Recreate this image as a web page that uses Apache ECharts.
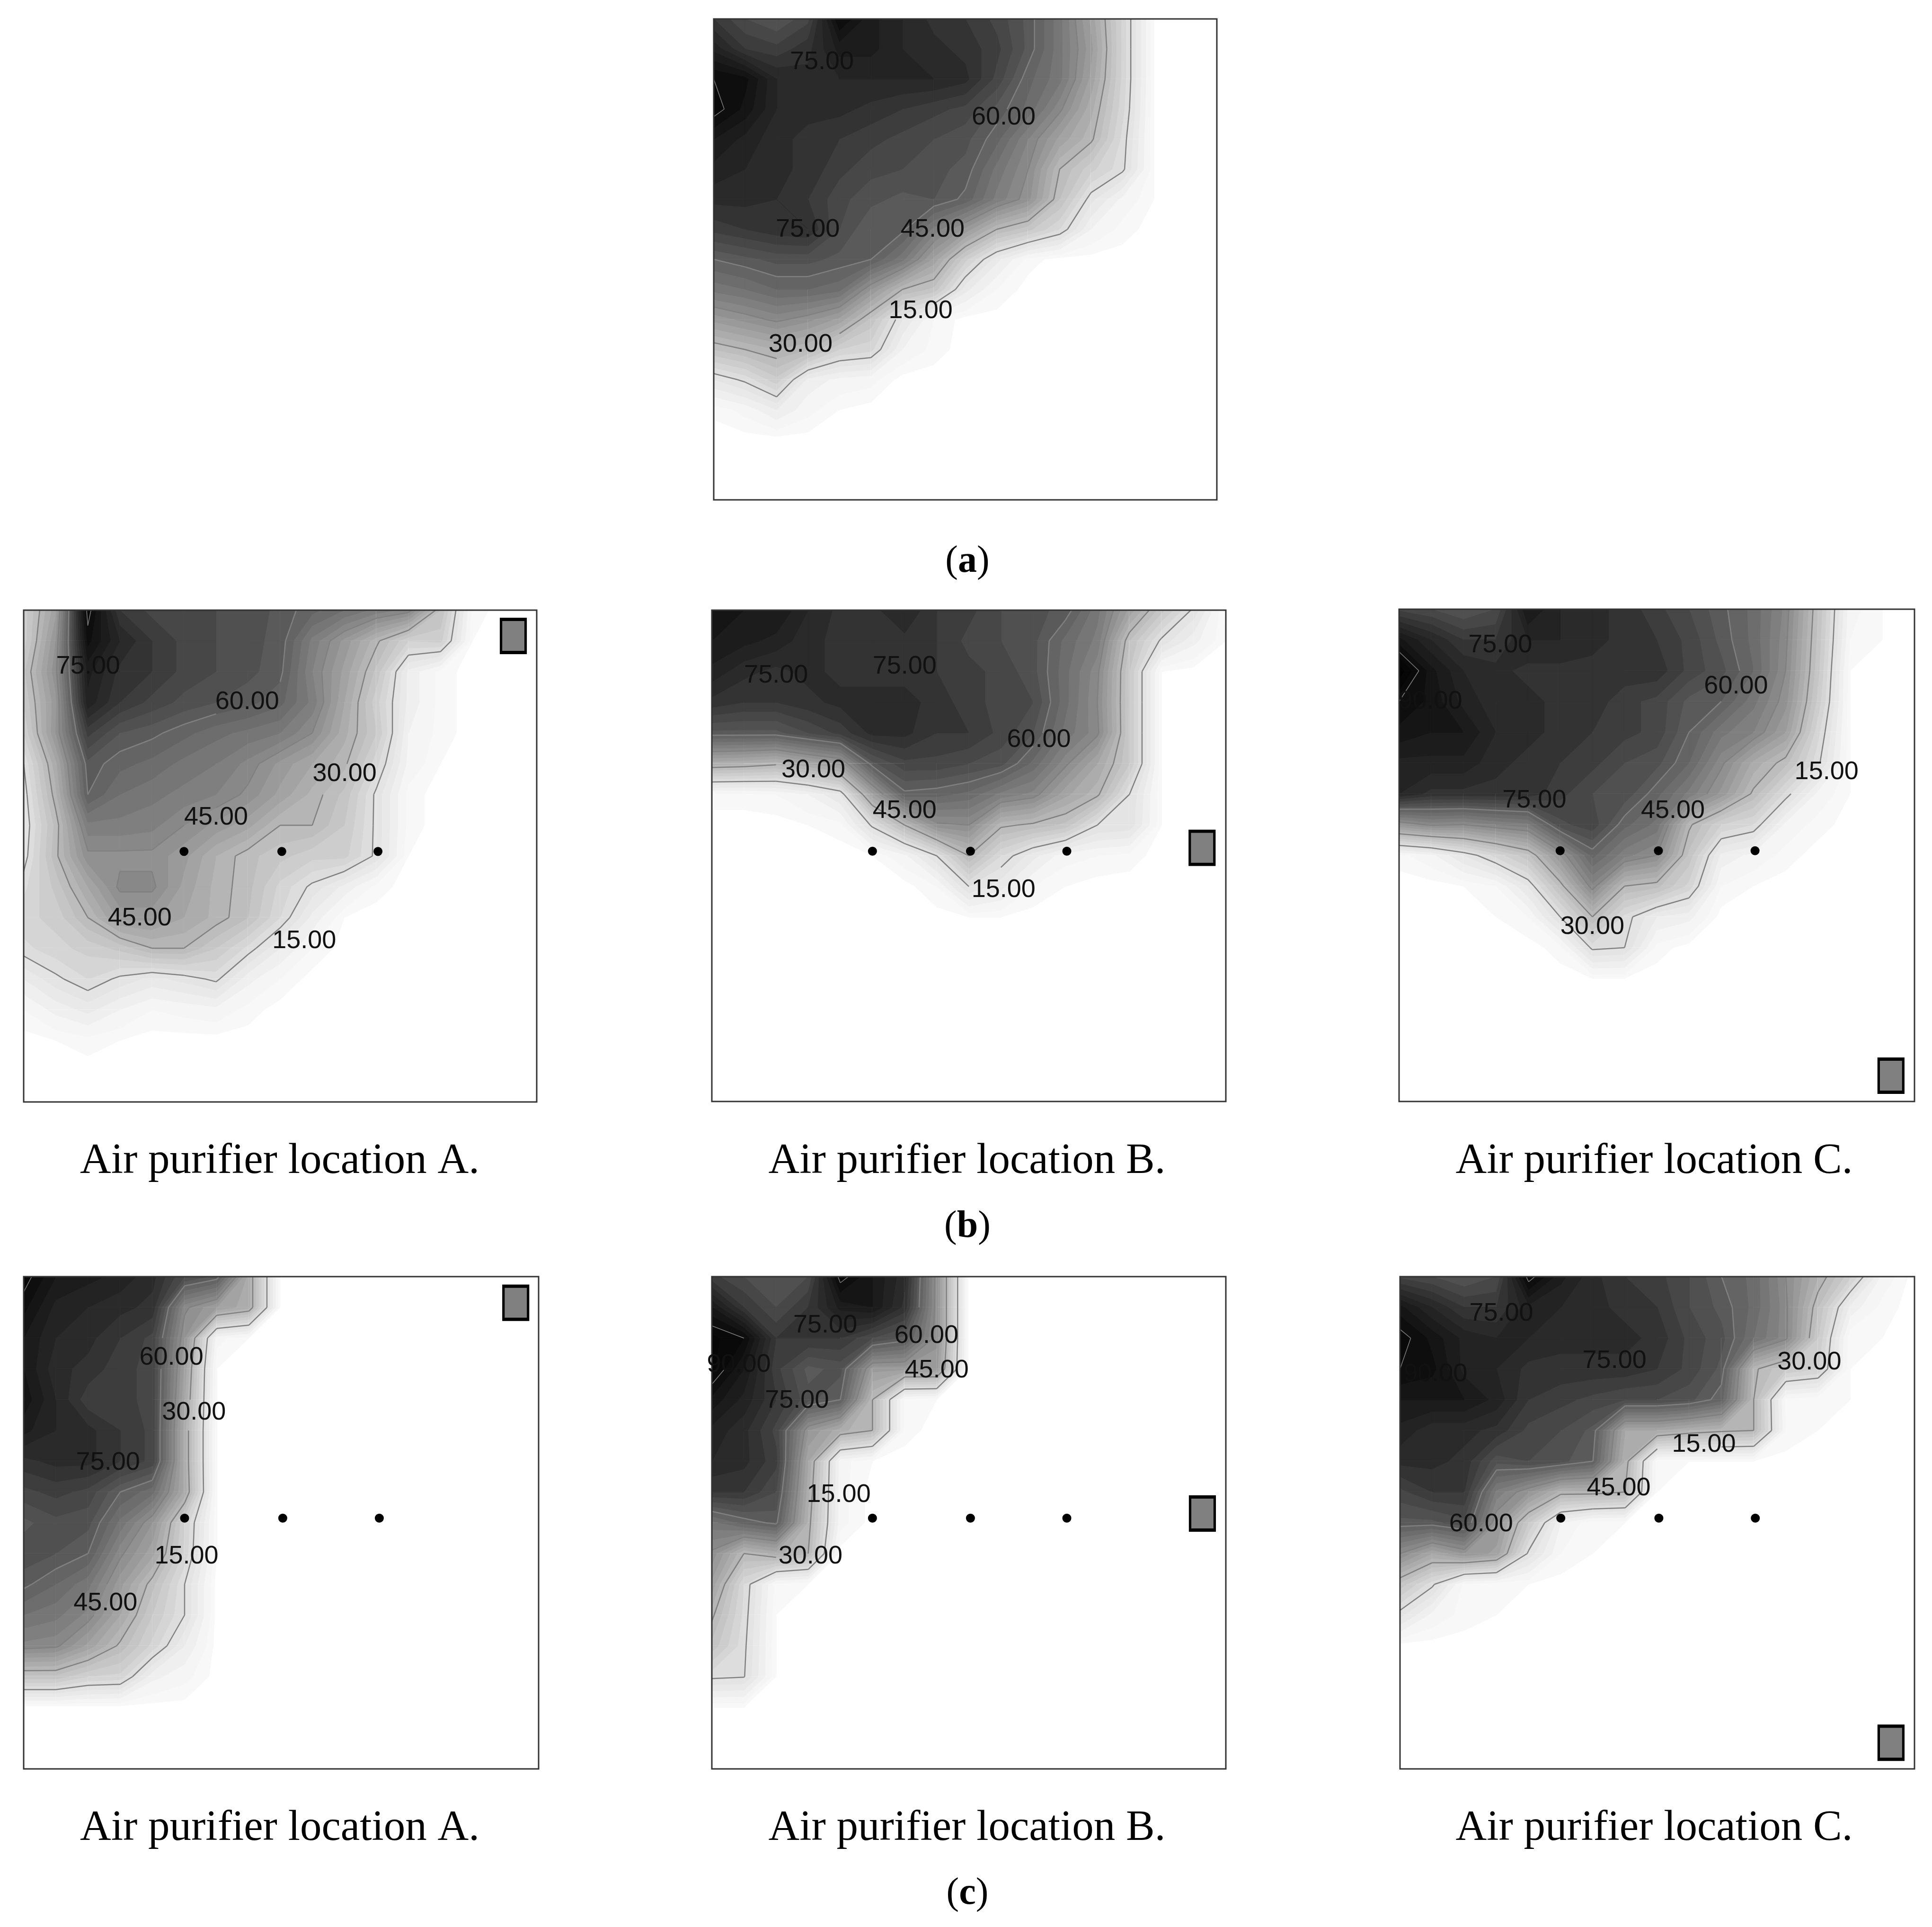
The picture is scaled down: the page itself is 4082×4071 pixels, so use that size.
<!DOCTYPE html>
<html>
<head>
<meta charset="utf-8">
<title>Air purifier contour maps</title>
<script src="https://cdn.jsdelivr.net/npm/echarts@6/dist/echarts.min.js"></script>
<style>
  html, body { margin: 0; padding: 0; background: #fff; }
  #chart { width: 4082px; height: 4071px; }
</style>
</head>
<body>
<div id="chart"></div>
<script>
// concentration on a 17 x 17 node grid, top row first (short rows end in zeros)
const valuesA = [
  [72,66,63,68,90,82,78,74,72,68,62,52,38,20,1],
  [80,72,70,74,82,82,78,76,74,70,62,52,40,20,1],
  [90,88,78,76,78,78,78,78,76,68,58,52,38,20,1],
  [92,86,78,76,76,74,72,70,68,62,56,46,34,19,1],
  [84,80,76,74,72,70,68,66,64,58,48,38,31,17,1],
  [80,78,76,74,70,67,66,64,62,53,45,30,22,16,1],
  [76,76,75,72,67,64,62,63,59,50,43,27,13,5,1],
  [70,72,74,75,66,60,61,50,41,30,25,18,6,2],
  [60,62,64,64,62,60,52,38,22,10,2],
  [52,54,57,57,55,42,30,26,10,3],
  [40,43,46,43,38,26,12,3],
  [27,30,33,30,21,19,6,2],
  [12,16,23,8,5,4],
  [1.5,4,9,4,1]
];
const valuesBA = [
  [22,38,92,72,68,66,66,65,62,58,54,50,47,27,2],
  [22,42,88,78,72,68,66,64,62,50,41,31,21,22,1],
  [26,44,82,74,72,68,66,64,61,48,38,26,8,2],
  [24,41,80,72,68,65,63,61,58,50,36,22,8,2],
  [21,42,70,63,61,58,55,53,51,45,34,24,6,2],
  [15,35,62,58,56,53,51,47,41,36,31,19,5,1],
  [13,32,60,54,52,50,48,44,38,32,26,14,2],
  [12,28,50,50,49,45,41,37,30,30,24,14,2],
  [13,29,44,44,44,40,33,28,25,22,22,14,1],
  [17,25,36,46,46,38,32,28,20,14,8,2],
  [20,22,30,40,40,36,32,27,18,8,1],
  [17,20,22,25,30,30,24,17,9,3],
  [9,14,18,14,11,13,16,7,3],
  [3,7,10,6,3,4,5,2],
  [0,1,2,1]
];
const valuesBB = [
  [84,84,84,78,74,74,78,72,70,66,64,62,52,38,25,14],
  [84,82,80,76,74,74,74,72,68,66,64,56,50,27,14,7,1],
  [80,76,74,76,74,74,74,72,70,68,64,55,46,24,1],
  [74,72,72,74,76,76,76,74,70,68,66,55,45,24,1],
  [62,62,62,66,70,76,76,72,72,68,63,53,46,24,1],
  [34,33,31,36,40,62,68,68,66,64,56,46,36,24,1],
  [2,2,3,6,12,38,59,58,56,50,47,37,31,15,1],
  [0,0,0,1,2,16,30,44,45,31,29,26,15,14,1],
  [0,0,0,0,0,1,5,15,30,18,10,4,3,2],
  [0,0,0,0,0,0,0,3,15,10,3,1],
  [0,0,0,0,0,0,0,0,1,1]
];
const valuesBC = [
  [68,66,63,66,84,78,76,74,70,66,61,56,47,27,4,1],
  [85,78,72,72,78,78,76,74,72,68,62,56,46,26,3,1],
  [98,85,78,76,74,74,74,74,74,68,64,57,45,25,1],
  [90,86,80,76,76,74,74,70,68,62,60,52,43,23,1],
  [86,84,84,78,76,74,72,70,68,60,52,48,39,19,1],
  [80,80,80,76,74,72,70,66,64,57,46,35,28,16,1],
  [78,74,74,74,74,70,66,65,58,50,41,29,17,5,1],
  [42,46,45,48,50,65,68,58,53,31,21,18,5,2],
  [2,5,12,19,26,42,58,49,45,26,8,5,2],
  [0,0,1,3,12,28,47,30,28,20,3,1],
  [0,0,0,1,3,15,30,17,9,7],
  [0,0,0,0,0,2,16,15,2],
  [0,0,0,0,0,0,1,1]
];
const valuesCA = [
  [92,84,82,80,76,66,62,34],
  [88,80,78,76,74,46,39,34],
  [84,78,76,72,68,42,4,1],
  [84,76,74,70,68,38,1],
  [86,78,70,70,68,36,1],
  [82,78,76,72,68,34,1],
  [74,76,76,72,68,34,1],
  [68,70,68,60,55,35,1],
  [62,65,64,53,42,21,1],
  [65,63,60,46,37,20,1],
  [61,57,52,40,28,15],
  [54,52,47,36,24,15],
  [47,46,38,29,20,9],
  [26,26,21,20,7,4]
];
const valuesCB = [
  [70,66,63,66,92,84,76,43],
  [84,72,66,72,82,84,74,43],
  [94,90,72,72,72,66,62,43],
  [94,84,70,62,64,40,40,40],
  [86,80,72,64,60,30,2,1],
  [80,76,68,42,34,30,2],
  [78,76,70,36,4,1],
  [72,72,66,34,4],
  [53,58,61,32,4],
  [44,30,34,30],
  [38,18,2,1],
  [31,17,1],
  [26,16,1],
  [16,15.3,1],
  [1,1]
];
const valuesCC = [
  [68,66,63,66,92,82,76,72,70,66,60,56,45,33,22,5],
  [85,78,72,72,80,78,76,74,72,66,62,56,46,27,8,2],
  [92,86,80,78,78,76,76,76,74,68,64,54,46,24,1,1],
  [90,88,80,78,74,74,74,74,72,68,62,31,24,21,1],
  [84,84,84,80,72,70,68,66,66,64,58,30,2,1,1],
  [80,76,76,74,68,66,62,36,36,33,31,30,3,1],
  [76,76,74,64,66,64,60,33,1,1,1,1],
  [68,72,72,50,42,32,32,30,1],
  [62,62,65,42,24,6,1,1],
  [45,36,42,38,14,3,1],
  [26,16,2,1,1],
  [13,5,2,1]
];

// contour labels: column, row (grid units), text
const labelsA = [[3.44,1.41,'75.00'],[9.22,3.24,'60.00'],[2.99,6.98,'75.00'],[6.96,6.98,'45.00'],[6.58,9.68,'15.00'],[2.76,10.81,'30.00']];
const labelsBA = [[2.01,1.8,'75.00'],[6.97,2.96,'60.00'],[10.01,5.3,'30.00'],[6,6.71,'45.00'],[3.62,9.99,'45.00'],[8.75,10.73,'15.00']];
const labelsBB = [[2,2.1,'75.00'],[6,1.81,'75.00'],[10.18,4.19,'60.00'],[3.16,5.18,'30.00'],[6,6.5,'45.00'],[9.08,9.08,'15.00']];
const labelsBC = [[3.14,1.14,'75.00'],[0.97,2.97,'90.00'],[10.46,2.48,'60.00'],[13.27,5.26,'15.00'],[4.2,6.19,'75.00'],[8.5,6.52,'45.00'],[6,10.3,'30.00']];
const labelsCA = [[4.59,2.6,'60.00'],[5.29,4.39,'30.00'],[2.62,6.01,'75.00'],[5.06,9.07,'15.00'],[2.54,10.58,'45.00']];
const labelsCB = [[3.53,1.56,'75.00'],[6.68,1.89,'60.00'],[0.84,2.83,'90.00'],[7,3.02,'45.00'],[2.65,4,'75.00'],[3.95,7.06,'15.00'],[3.07,9.07,'30.00']];
const labelsCC = [[3.15,1.17,'75.00'],[1.1,3.14,'90.00'],[6.67,2.71,'75.00'],[12.73,2.76,'30.00'],[9.45,5.43,'15.00'],[6.8,6.85,'45.00'],[2.52,8.01,'60.00']];

// measuring points and purifier position per map
const samplePoints = [[5,7.85],[8.05,7.85],[11.05,7.85]];
const purifierBA = [15.27,0.84];
const purifierBB = [15.26,7.74];
const purifierBC = [15.27,15.16];
const purifierCA = [15.29,0.85];
const purifierCB = [15.27,7.7];
const purifierCC = [15.27,15.15];

const contourLevels = [15,30,45,60,90];
const fillLevels = [1,3,6,9,12,15,18,21,24,27,30,33,36,39,42,45,48,51,54,57,60,63,66,69,72,75,78,81,84,87,90,93,96];
const grayStops = [[0,253],[15,225],[30,185],[45,140],[60,95],[75,46],[90,10],[100,0]];

const panels = [
  { box: [1508,40,1063,1016], values: valuesA, labels: labelsA },
  { box: [50,1289,1084,1039], values: valuesBA, labels: labelsBA, points: samplePoints, purifier: purifierBA },
  { box: [1504,1289,1086,1038], values: valuesBB, labels: labelsBB, points: samplePoints, purifier: purifierBB },
  { box: [2956,1287,1089,1040], values: valuesBC, labels: labelsBC, points: samplePoints, purifier: purifierBC },
  { box: [50,2697,1088,1040], values: valuesCA, labels: labelsCA, points: samplePoints, purifier: purifierCA },
  { box: [1504,2697,1086,1040], values: valuesCB, labels: labelsCB, points: samplePoints, purifier: purifierCB },
  { box: [2958,2697,1087,1040], values: valuesCC, labels: labelsCC, points: samplePoints, purifier: purifierCC }
];

const captions = [
  ['Air purifier location A.',586,2449],['Air purifier location B.',2038,2449],['Air purifier location C.',3490,2449],
  ['Air purifier location A.',586,3858],['Air purifier location B.',2038,3858],['Air purifier location C.',3490,3858]
];
const partLabels = [['a',2039,1182],['b',2039,2587],['c',2039,3996]];

function grayOf(v) {
  for (let i = 1; i < grayStops.length; i++) {
    if (v <= grayStops[i][0]) {
      const a = grayStops[i - 1], b = grayStops[i];
      const g = Math.round(a[1] + (b[1] - a[1]) * (v - a[0]) / (b[0] - a[0]));
      return 'rgb(' + g + ',' + g + ',' + g + ')';
    }
  }
  return '#000';
}

function cellCorners(values, c, r) {
  const at = (cc, rr) => (values[rr] && values[rr][cc]) || 0;
  return [[c, r, at(c, r)], [c + 1, r, at(c + 1, r)], [c + 1, r + 1, at(c + 1, r + 1)], [c, r + 1, at(c, r + 1)]];
}

function crossing(p, q, level) {
  const t = (level - p[2]) / (q[2] - p[2]);
  return [p[0] + (q[0] - p[0]) * t, p[1] + (q[1] - p[1]) * t];
}

// filled bands: paint each level over the lower one
function fillRenderer(values) {
  return function (params, api) {
    const pts = cellCorners(values, api.value(0), api.value(1));
    const vals = pts.map(p => p[2]);
    const lo = Math.min(...vals), hi = Math.max(...vals);
    const children = [];
    let start = 0;
    fillLevels.forEach((l, i) => { if (l <= lo) start = i; });
    for (let i = start; i < fillLevels.length && fillLevels[i] <= hi; i++) {
      const level = fillLevels[i];
      const poly = [];
      for (let k = 0; k < 4; k++) {
        const p = pts[k], q = pts[(k + 1) % 4];
        if (p[2] >= level) poly.push(api.coord([p[0], p[1]]));
        if ((p[2] >= level) !== (q[2] >= level)) poly.push(api.coord(crossing(p, q, level)));
      }
      if (poly.length < 3) continue;
      const colour = grayOf(level + 1.5);
      children.push({ type: 'polygon', shape: { points: poly }, style: { fill: colour, stroke: colour, lineWidth: 1 } });
    }
    return { type: 'group', children: children };
  };
}

// contour lines, broken where their own label sits
function lineRenderer(values, labels) {
  return function (params, api) {
    const pts = cellCorners(values, api.value(0), api.value(1));
    const children = [];
    contourLevels.forEach(level => {
      const hits = [];
      for (let k = 0; k < 4; k++) {
        const p = pts[k], q = pts[(k + 1) % 4];
        if ((p[2] >= level) !== (q[2] >= level)) hits.push(crossing(p, q, level));
      }
      for (let h = 0; h + 1 < hits.length; h += 2) {
        const mx = (hits[h][0] + hits[h + 1][0]) / 2, my = (hits[h][1] + hits[h + 1][1]) / 2;
        const hidden = labels.some(l => parseFloat(l[2]) === level && Math.abs(l[0] - mx) < 0.95 && Math.abs(l[1] - my) < 0.4);
        if (hidden) continue;
        const a = api.coord(hits[h]), b = api.coord(hits[h + 1]);
        children.push({ type: 'line', shape: { x1: a[0], y1: a[1], x2: b[0], y2: b[1] }, style: { stroke: '#808080', lineWidth: level === 90 ? 1.5 : 2.5 } });
      }
    });
    return { type: 'group', children: children };
  };
}

const cells = [];
for (let r = 0; r < 16; r++) for (let c = 0; c < 16; c++) cells.push([c, r]);

const grids = [], xAxes = [], yAxes = [], series = [];
panels.forEach((p, i) => {
  grids.push({ left: p.box[0], top: p.box[1], width: p.box[2], height: p.box[3], z: 3, show: true, backgroundColor: 'transparent', borderColor: '#333', borderWidth: 3 });
  xAxes.push({ gridIndex: i, type: 'value', min: 0, max: 16, show: false });
  yAxes.push({ gridIndex: i, type: 'value', min: 0, max: 16, inverse: true, show: false });
  const live = cells.filter(c => cellCorners(p.values, c[0], c[1]).some(v => v[2] >= 1));
  series.push({ type: 'custom', xAxisIndex: i, yAxisIndex: i, z: 1, silent: true, clip: true, animation: false, progressive: 0, renderItem: fillRenderer(p.values), data: live, encode: { x: 0, y: 1 } });
  series.push({ type: 'custom', xAxisIndex: i, yAxisIndex: i, z: 2, silent: true, clip: true, animation: false, progressive: 0, renderItem: lineRenderer(p.values, p.labels), data: live, encode: { x: 0, y: 1 } });
  if (p.points) {
    series.push({ type: 'scatter', xAxisIndex: i, yAxisIndex: i, z: 4, silent: true, animation: false, symbolSize: 19, itemStyle: { color: '#000', opacity: 1 }, data: p.points });
    series.push({ type: 'scatter', xAxisIndex: i, yAxisIndex: i, z: 4, silent: true, animation: false, symbol: 'rect', symbolSize: [52, 70], itemStyle: { color: '#808080', borderColor: '#000', borderWidth: 6, opacity: 1 }, data: [p.purifier] });
  }
  series.push({
    type: 'scatter', xAxisIndex: i, yAxisIndex: i, z: 5, silent: true, animation: false, symbolSize: 1,
    itemStyle: { color: 'transparent', opacity: 1 },
    label: { show: true, position: 'inside', offset: [0, 2], formatter: d => d.value[2], fontFamily: 'Liberation Sans', fontSize: 54, color: '#111', textBorderWidth: 0 },
    data: p.labels
  });
});

const titles = captions.map(t => ({
  text: t[0], left: t[1], top: t[2], textAlign: 'center', textVerticalAlign: 'middle',
  textStyle: { fontFamily: 'Liberation Serif', fontSize: 91, fontWeight: 'normal', color: '#000' }
})).concat(partLabels.map(t => ({
  text: '({b|' + t[0] + '})', left: t[1], top: t[2], textAlign: 'center', textVerticalAlign: 'middle',
  textStyle: { fontFamily: 'Liberation Serif', fontSize: 80, fontWeight: 'normal', color: '#000',
    rich: { b: { fontFamily: 'Liberation Serif', fontSize: 80, fontWeight: 'bold', color: '#000' } } }
})));

const chart = echarts.init(document.getElementById('chart'), null, { renderer: 'canvas' });
chart.setOption({
  backgroundColor: '#fff',
  animation: false,
  title: titles,
  grid: grids,
  xAxis: xAxes,
  yAxis: yAxes,
  series: series
});
</script>
</body>
</html>
